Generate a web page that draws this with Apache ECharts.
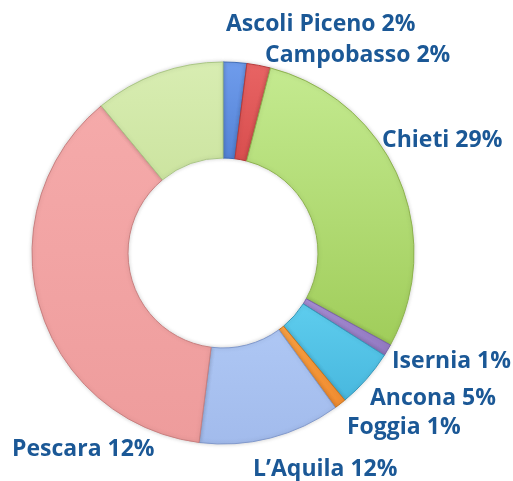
<!DOCTYPE html>
<html lang="it">
<head>
    <meta charset="utf-8" />
    <title>Province</title>
    <script type="text/javascript" src="https://cdn.jsdelivr.net/npm/echarts@6/dist/echarts.min.js"></script>
    <style type="text/css">
        html, body { margin: 0; padding: 0; background: #fff; }
    </style>
</head>
<body>
    <div id="main" style="width:513px;height:481px;"></div>
    <script type="text/javascript">
        // slices clockwise from 12 o'clock
        var provinces = ['Ascoli Piceno', 'Campobasso', 'Chieti', 'Isernia', 'Ancona', 'Foggia', "L\u2019Aquila", 'Pescara', 'Altro'];
        var values = [2, 2, 29, 1, 5, 1, 12, 37, 11];
        var labelTexts = ['Ascoli Piceno 2%', 'Campobasso 2%', 'Chieti 29%', 'Isernia 1%', 'Ancona 5%', 'Foggia 1%', 'L\u2019Aquila 12%', 'Pescara 12%', ''];
        // light (top) / dark (bottom) shade of each slice
        var colorsTop = ['#6f9cec', '#e86464', '#c4ea90', '#a88fd6', '#5ecdee', '#fba244', '#aec7f4', '#f5aaaa', '#d8edb2'];
        var colorsBottom = ['#5483d6', '#d84e4e', '#a0cd5a', '#9178c0', '#48b8de', '#f08c30', '#a2bbec', '#ee9c9c', '#cce4a0'];
        var borders = ['#3f6cb8', '#b73a3a', '#8db24e', '#7a62a8', '#3398bb', '#c9741c', '#8199cc', '#c98080', '#aac784'];

        // where each label sits (left edge, middle)
        var labelPos = [[226, 24], [265, 55], [382, 140], [392, 361], [370, 398], [347, 427], [253, 469], [12, 449], [0, 0]];

        var myChart = echarts.init(document.getElementById('main'));

        var pieData = [];
        for (var i = 0; i < values.length; i++) {
            pieData.push({
                name: provinces[i],
                value: values[i],
                itemStyle: {
                    color: new echarts.graphic.LinearGradient(0, 0, 0, 1, [
                        { offset: 0, color: colorsTop[i] },
                        { offset: 1, color: colorsBottom[i] }
                    ]),
                    borderColor: borders[i]
                },
                label: { show: labelTexts[i] !== '' }
            });
        }

        var option = {
            animation: false,
            series: [{
                type: 'pie',
                center: [223, 253],
                radius: [95, 191],
                startAngle: 90,
                clockwise: true,
                avoidLabelOverlap: false,
                data: pieData,
                itemStyle: {
                    borderWidth: 1,
                    shadowColor: 'rgba(0,0,0,0.18)',
                    shadowBlur: 4
                },
                label: {
                    position: 'outside',
                    formatter: function (p) { return labelTexts[p.dataIndex]; },
                    color: '#1b5896',
                    fontFamily: 'Open Sans',
                    fontWeight: 'bold',
                    fontSize: 23,
                    overflow: 'none',
                    width: 300
                },
                labelLine: { show: false },
                labelLayout: function (p) {
                    var pos = labelPos[p.dataIndex];
                    return { x: pos[0], y: pos[1], align: 'left', verticalAlign: 'middle', hideOverlap: false };
                },
                emphasis: { disabled: true }
            }]
        };
        myChart.setOption(option);
    </script>
</body>
</html>
